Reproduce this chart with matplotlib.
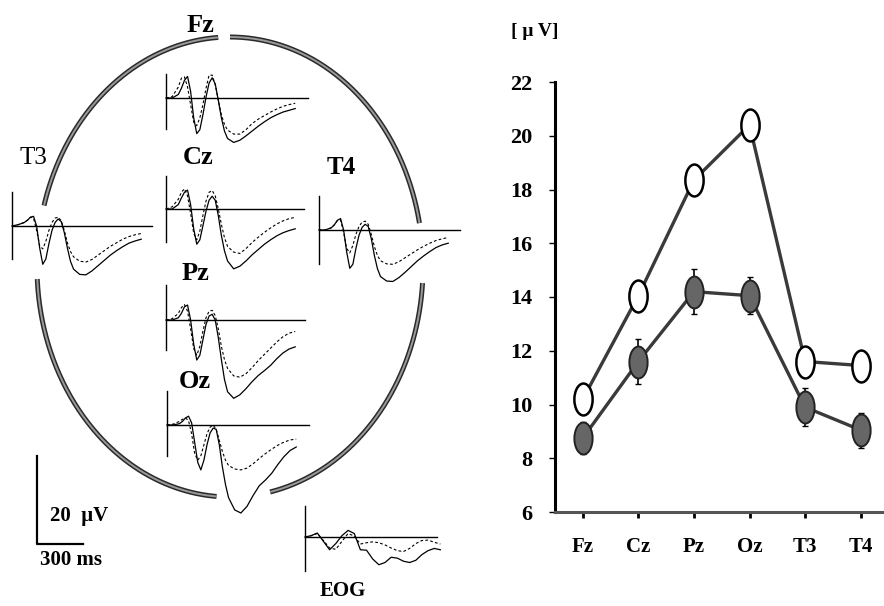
import numpy as np
import matplotlib
matplotlib.use("Agg")
import matplotlib.pyplot as plt
from matplotlib.path import Path
from matplotlib.transforms import Affine2D

plt.rcParams['font.family'] = ['Liberation Serif', 'DejaVu Serif']
plt.rcParams['font.weight'] = 'bold'

# ---- right chart data (amplitude, uV) ----
sites = ['Fz', 'Cz', 'Pz', 'Oz', 'T3', 'T4']
open_vals = [10.2, 14.05, 18.35, 20.4, 11.6, 11.45]
filled_vals = [8.75, 11.6, 14.2, 14.05, 9.9, 9.05]
filled_err = [0.6, 0.85, 0.85, 0.7, 0.7, 0.65]
yticks = [6, 8, 10, 12, 14, 16, 18, 20, 22]

# ---- waveform data (ms, uV) ----
t_ms = [0, 40, 80, 100, 120, 140, 160, 180, 200, 220, 240, 260, 280, 300, 320,
        340, 360, 380, 400, 440, 480, 520, 560, 600, 640, 680, 720, 760, 800, 840]

fz_solid = [0, 0, 0.8, 2.2, 4.0, 4.9, 1.5, -4.5, -8.1, -7.2, -3.8, 0.2, 3.4, 4.6, 3.2,
            -0.5, -4.5, -7.5, -9.2, -10.1, -9.6, -8.6, -7.5, -6.4, -5.4, -4.5, -3.8, -3.2, -2.8, -2.4]
fz_dash = [0, 0.3, 2.5, 4.5, 4.8, 2.5, -1.5, -5.5, -6.3, -4.5, -1.5, 2.2, 5.2, 5.2, 3.0,
           -0.5, -3.8, -6.0, -7.3, -8.2, -8.2, -7.2, -5.8, -4.8, -4.0, -3.2, -2.5, -1.9, -1.5, -1.2]

cz_solid = [0, 0, 1.0, 2.5, 3.8, 4.3, 1.0, -4.5, -8.0, -7.0, -3.8, -0.5, 2.0, 2.9, 2.0,
            -1.5, -6.0, -9.5, -11.8, -13.6, -13.0, -11.8, -10.4, -9.2, -8.0, -7.0, -6.1, -5.4, -4.9, -4.5]
cz_dash = [0, 0.5, 2.2, 3.8, 4.6, 3.0, -1.0, -5.5, -7.0, -5.0, -1.5, 1.8, 3.8, 4.2, 3.0,
           0.0, -3.5, -6.5, -8.5, -9.8, -10.1, -9.0, -7.6, -6.4, -5.3, -4.3, -3.4, -2.7, -2.2, -1.9]

pz_solid = [0, 0, 0.5, 1.5, 3.0, 3.4, 0.0, -5.5, -9.1, -8.0, -4.5, -1.0, 0.9, 1.3, 0.0,
            -4.0, -9.0, -13.5, -16.3, -17.8, -17.0, -15.6, -14.0, -12.6, -11.5, -10.3, -8.8, -7.5, -6.6, -6.1]
pz_dash = [0, 0.3, 1.5, 2.8, 3.5, 2.0, -2.0, -6.5, -8.0, -6.0, -2.5, 0.5, 2.0, 2.2, 1.0,
           -2.0, -6.0, -9.0, -11.0, -12.7, -13.0, -12.2, -10.8, -9.2, -7.8, -6.4, -5.0, -3.8, -3.0, -2.6]

oz_solid = [0, 0, 0.3, 0.8, 1.6, 2.0, 0.5, -4.0, -8.5, -10.2, -8.0, -4.5, -1.8, -0.7, -1.0,
            -4.5, -9.5, -13.5, -16.5, -19.3, -20.0, -18.5, -16.0, -13.8, -12.5, -11.0, -9.0, -7.2, -5.8, -5.0]
oz_dash = [0, 0.2, 0.8, 1.3, 1.6, 1.0, -2.0, -6.5, -8.0, -7.0, -4.5, -2.0, -0.5, 0.0, -1.0,
           -3.5, -6.0, -8.0, -9.2, -10.0, -10.2, -9.8, -8.8, -7.6, -6.5, -5.5, -4.6, -3.9, -3.4, -3.2]

t3_solid = [0, 0.3, 0.8, 1.3, 2.0, 2.2, 0.0, -5.0, -8.7, -7.5, -4.0, -1.0, 0.8, 1.6, 1.0,
            -1.5, -5.0, -8.0, -9.8, -11.0, -11.1, -10.2, -9.0, -7.8, -6.6, -5.6, -4.7, -3.9, -3.4, -3.0]
t3_dash = [0, 0.3, 0.8, 1.3, 2.0, 1.8, -1.0, -4.5, -5.2, -3.5, -1.0, 0.8, 1.8, 2.0, 1.2,
           -1.0, -3.8, -5.8, -7.0, -8.0, -8.2, -7.6, -6.6, -5.6, -4.6, -3.8, -3.0, -2.4, -2.0, -1.7]

t4_solid = [0, 0, 0.5, 1.2, 2.2, 2.6, 0.0, -5.0, -8.7, -7.8, -4.2, -1.2, 0.6, 1.3, 0.8,
            -2.0, -5.8, -8.8, -10.6, -11.6, -11.7, -10.8, -9.6, -8.3, -7.0, -5.9, -4.9, -4.0, -3.4, -3.0]
t4_dash = [0, 0, 0.5, 1.2, 2.2, 2.3, -0.5, -4.2, -5.2, -3.5, -1.0, 0.8, 1.8, 2.0, 1.3,
           -1.0, -3.8, -5.8, -7.0, -7.7, -7.8, -7.2, -6.3, -5.4, -4.5, -3.7, -3.0, -2.4, -2.0, -1.7]

t_eog = [0, 40, 80, 120, 160, 200, 240, 280, 320, 360, 400, 440, 480, 520, 560, 600,
         640, 680, 720, 760, 800, 840, 880]
eog_solid = [0, 0.3, 0.9, -1.0, -2.9, -1.5, 0.3, 1.5, 0.8, -2.9, -3.0, -5.0, -6.3, -5.8,
             -4.6, -4.8, -5.5, -5.8, -5.3, -4.0, -3.1, -2.6, -2.9]
eog_dash = [0, 0.3, 0.8, -0.8, -2.5, -2.8, -1.0, 0.8, 0.2, -1.6, -1.3, -1.1, -1.3, -1.8,
            -2.5, -3.1, -3.3, -2.6, -1.5, -0.8, -0.7, -1.2, -1.6]

W, H = 884, 606
MS_PER_PX = 6.5
PX_PER_UV = 4.4

fig = plt.figure(figsize=(W / 100, H / 100), dpi=100)

# background axes in pixel units for the head outline and labels
bg = fig.add_axes([0, 0, 1, 1])
bg.set_xlim(0, W)
bg.set_ylim(H, 0)
bg.axis('off')

cx, cy, ra, rb = 230, 267, 193, 230
for th1, th2 in [(11, 90), (93.5, 164.5), (183, 266), (282, 356)]:
    th = np.radians(np.linspace(th1, th2, 200))
    bg.plot(cx + ra * np.cos(th), cy - rb * np.sin(th), color='#2a2a2a', lw=3.6,
            solid_capstyle='butt')
    bg.plot(cx + ra * np.cos(th), cy - rb * np.sin(th), color='#9a9a9a', lw=1.4,
            solid_capstyle='butt')

lab = dict(ha='center', va='center', fontsize=19, fontweight='bold')
bg.text(200, 25, 'Fz', **lab)
bg.text(198, 157, 'Cz', **lab)
bg.text(195, 274, 'Pz', **lab)
bg.text(195, 381, 'Oz', **lab)
bg.text(33, 158, 'T3', ha='center', va='center', fontsize=18, fontweight='normal')
bg.text(341, 167, 'T4', ha='center', va='center', fontsize=18, fontweight='bold')
bg.text(343, 591, 'EOG', ha='center', va='center', fontsize=15, fontweight='bold')
bg.text(50, 516, '20  μV', ha='left', va='center', fontsize=15, fontweight='bold')
bg.text(40, 560, '300 ms', ha='left', va='center', fontsize=15, fontweight='bold')


def panel(x0, yb, length, up, down):
    ax = fig.add_axes([x0 / W, (H - yb - down) / H, length / W, (up + down) / H])
    ax.set_xlim(0, length * MS_PER_PX)
    ax.set_ylim(-down / PX_PER_UV, up / PX_PER_UV)
    ax.axis('off')
    ax.axvline(0, color='black', lw=1.0, clip_on=False)
    ax.axhline(0, color='black', lw=1.0, clip_on=False)
    return ax


def traces(ax, t, solid, dash):
    ax.plot(t, solid, color='black', lw=0.9, clip_on=False)
    ax.plot(t, dash, color='black', lw=0.8, ls=(0, (2.5, 2)), clip_on=False)


traces(panel(166, 98, 142, 24, 31), t_ms, fz_solid, fz_dash)
traces(panel(166, 209, 138, 33, 33), t_ms, cz_solid, cz_dash)
traces(panel(166, 320, 139, 35, 30), t_ms, pz_solid, pz_dash)
traces(panel(167, 425, 142, 34, 31), t_ms, oz_solid, oz_dash)
traces(panel(12, 226, 140, 34, 33), t_ms, t3_solid, t3_dash)
traces(panel(319, 230, 141, 34, 34), t_ms, t4_solid, t4_dash)
traces(panel(305, 537, 132, 31, 34), t_eog, eog_solid, eog_dash)

# scale bar: 20 uV, 300 ms
sb = fig.add_axes([37 / W, (H - 544) / H, 60 / W, 90 / H])
sb.set_xlim(0, 60 * MS_PER_PX)
sb.set_ylim(0, 90 / PX_PER_UV)
sb.axis('off')
sb.plot([0, 0, 300], [20, 0, 0], color='black', lw=1.6, clip_on=False)

# ---- right chart ----
ax = fig.add_axes([555 / W, (H - 512) / H, (W - 555) / W, (512 - 82) / H])
ell = Path.unit_circle().transformed(Affine2D().scale(1.0, 1.75))
xs = np.arange(len(sites))

ax.plot(xs, open_vals, color='#3a3a3a', lw=2.4, marker=ell, ms=23,
        mfc='white', mec='black', mew=1.8, zorder=3)
ax.errorbar(xs, filled_vals, yerr=filled_err, fmt='none', ecolor='black',
            elinewidth=1.2, capsize=2, zorder=3)
ax.plot(xs, filled_vals, color='#3a3a3a', lw=2.4, marker=ell, ms=23,
        mfc='#666666', mec='#222222', mew=1.4, zorder=4)

ax.set_xlim(-0.5, 5.42)
ax.set_ylim(6, 22)
ax.set_yticks(yticks)
ax.set_xticks(xs)
ax.set_xticklabels(sites)
ax.spines['top'].set_visible(False)
ax.spines['right'].set_visible(False)
ax.spines['left'].set_linewidth(2.2)
ax.spines['bottom'].set_linewidth(2.2)
ax.spines['bottom'].set_color('#555555')
ax.tick_params(axis='y', direction='out', length=4, width=1, pad=12, labelsize=16)
ax.tick_params(axis='x', direction='out', length=4, width=2, pad=14, labelsize=15)
for lbl in ax.get_xticklabels() + ax.get_yticklabels():
    lbl.set_fontweight('bold')

fig.text(535 / W, 1 - 31 / H, '[ μ V]', ha='center', va='center', fontsize=14,
         fontweight='bold')

fig.savefig('out.png', dpi=100)
